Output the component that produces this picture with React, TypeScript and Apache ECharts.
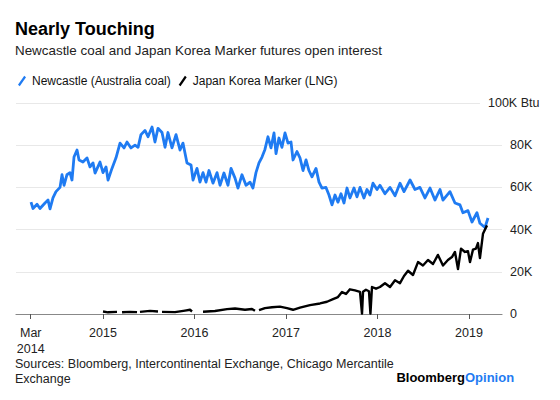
import React, { useEffect, useRef } from 'react';
import * as echarts from 'echarts';

// Newcastle (Australia coal) futures open interest, thousands; time in decimal years
const coalTime = [
  2014.213, 2014.235, 2014.279, 2014.311, 2014.366, 2014.399, 2014.421, 2014.453, 2014.486, 2014.530,
  2014.552, 2014.574, 2014.606, 2014.639, 2014.661, 2014.683, 2014.716, 2014.738, 2014.781, 2014.825,
  2014.858, 2014.891, 2014.913, 2014.967, 2015.000, 2015.033, 2015.055, 2015.098, 2015.142, 2015.186,
  2015.230, 2015.262, 2015.306, 2015.350, 2015.383, 2015.415, 2015.459, 2015.492, 2015.536, 2015.568,
  2015.601, 2015.645, 2015.678, 2015.710, 2015.754, 2015.798, 2015.842, 2015.874, 2015.918, 2015.962,
  2015.984, 2016.027, 2016.060, 2016.093, 2016.126, 2016.158, 2016.202, 2016.246, 2016.279, 2016.322,
  2016.366, 2016.399, 2016.443, 2016.475, 2016.519, 2016.563, 2016.607, 2016.639, 2016.672, 2016.705,
  2016.738, 2016.770, 2016.803, 2016.836, 2016.869, 2016.891, 2016.923, 2016.956, 2016.989, 2017.022,
  2017.055, 2017.077, 2017.120, 2017.153, 2017.186, 2017.219, 2017.251, 2017.284, 2017.328, 2017.361,
  2017.393, 2017.437, 2017.470, 2017.503, 2017.536, 2017.568, 2017.601, 2017.634, 2017.667, 2017.699,
  2017.743, 2017.776, 2017.809, 2017.852, 2017.885, 2017.918, 2017.951, 2017.995, 2018.027, 2018.082,
  2018.137, 2018.192, 2018.246, 2018.290, 2018.356, 2018.410, 2018.464, 2018.519, 2018.574, 2018.628,
  2018.683, 2018.716, 2018.792, 2018.847, 2018.902, 2018.934, 2018.989, 2019.033, 2019.087, 2019.120,
  2019.175, 2019.208,
];
const coalValue = [
  53, 50, 52, 50, 52.6, 54, 49.8, 55, 58, 60,
  66, 61, 66, 67, 63.5, 74.4, 77.7, 73, 72, 74,
  69.7, 71.6, 66.8, 72, 67, 69.7, 63.5, 69, 74, 81,
  78.7, 81.5, 78.7, 80, 79, 85, 87, 84, 88.6, 81.5,
  88, 86, 79, 86, 78.7, 85, 77.7, 81, 71.6, 70.6,
  63.5, 69, 62.5, 67, 62.5, 68, 62, 67, 61, 66.8,
  61, 69, 64.4, 59.7, 66, 61, 62.5, 59.7, 67, 71.6,
  74.4, 78, 84, 78.7, 85.8, 76, 83.4, 79, 85.8, 81,
  81.5, 73, 77, 74, 68, 73, 68, 65, 69, 62.5,
  59.7, 60, 56.4, 51.7, 56.4, 53, 57, 52.6, 59.7, 55,
  59.7, 55.5, 60, 55, 59, 56.4, 62, 59, 61, 57,
  60, 56, 62, 58, 63.5, 59, 60, 55, 59.7, 54,
  59, 54, 58, 52.6, 51.7, 48, 49, 43.6, 48, 43,
  41, 45.5,
];

// Japan Korea Marker (LNG) futures open interest, thousands; null = gap in data
const lngTime = [
  2015.000, 2015.055, 2015.153, 2015.180, 2015.208, 2015.295, 2015.372, 2015.388, 2015.404, 2015.514,
  2015.601, 2015.623, 2015.645, 2015.787, 2015.896, 2015.951, 2015.973, 2016.044, 2016.093, 2016.224,
  2016.355, 2016.443, 2016.552, 2016.628, 2016.661, 2016.683, 2016.705, 2016.770, 2016.847, 2016.934,
  2017.011, 2017.077, 2017.153, 2017.262, 2017.372, 2017.448, 2017.514, 2017.568, 2017.612, 2017.656,
  2017.699, 2017.754, 2017.809, 2017.831, 2017.842, 2017.874, 2017.907, 2017.923, 2017.940, 2017.984,
  2018.027, 2018.082, 2018.137, 2018.192, 2018.246, 2018.290, 2018.334, 2018.388, 2018.443, 2018.497,
  2018.552, 2018.607, 2018.661, 2018.716, 2018.770, 2018.814, 2018.847, 2018.880, 2018.913, 2018.956,
  2018.989, 2019.011, 2019.044, 2019.076, 2019.098, 2019.120, 2019.153, 2019.197,
];
const lngValue = [
  1.2, 0.8, 1.0, null, 0.8, 1.0, 0.9, null, 1.0, 1.5,
  1.2, null, 1.0, 0.9, 1.6, 2.0, 1.2, null, 1.1, 1.4,
  2.3, 2.6, 2.0, 2.4, 1.5, null, 1.8, 2.8, 3.2, 3.5,
  2.8, 2.0, 3.0, 4.2, 5.0, 5.8, 7.0, 8.0, 10.4, 9.5,
  11.7, 11.2, 10.5, 0.2, 10.5, 11.5, 10.8, 0.2, 12.8, 12.0,
  12.8, 14.6, 12.8, 16.0, 14.6, 18, 20.5, 18.5, 24.6, 23,
  25.6, 23.7, 28, 23, 25.6, 27, 29.4, 21.3, 31, 29.4,
  29.8, 24.6, 30.5, 31, 33.6, 26.5, 38, 42,
];

const seriesNames = ['Newcastle (Australia coal)', 'Japan Korea Marker (LNG)'];
const xTickValues = [2014.21, 2015, 2016, 2017, 2018, 2019];
const xTickLabels = ['Mar\n2014', '2015', '2016', '2017', '2018', '2019'];
const yTickValues = [0, 20, 40, 60, 80, 100];
const yTickLabels = ['0', '20K', '40K', '60K', '80K', '100K Btu'];
const xMin = 2014.049;
const xMax = 2019.361;
const topGridEnd = 2019.12;

const FONT = '"Liberation Sans", Arial, Helvetica, sans-serif';
const BLUE = '#1f7bf2';

export default function App() {
  const ref = useRef<HTMLDivElement>(null);
  useEffect(() => {
    if (!ref.current) return;
    const chart = echarts.init(ref.current, undefined, { renderer: 'svg' });
    const coalData = coalTime.map((t, i) => [t, coalValue[i]]);
    const lngData = lngTime.map((t, i) => [t, lngValue[i] == null ? '-' : lngValue[i]]);
    chart.setOption({
      animation: false,
      textStyle: { fontFamily: FONT },
      grid: { left: 16, right: 58, top: 103, bottom: 86, containLabel: false },
      legend: {
        left: 13,
        top: 70,
        itemWidth: 8,
        itemHeight: 11,
        itemGap: 8,
        icon: 'path://M0,10 L7,0 L9,1.6 L2,11.6 Z',
        textStyle: { fontSize: 12, color: '#111', fontFamily: FONT, padding: [0, 0, 0, 1] },
        data: seriesNames,
      },
      xAxis: {
        type: 'value',
        min: xMin,
        max: xMax,
        axisLine: { show: true, lineStyle: { color: '#888', width: 1.2 } },
        axisTick: {
          show: true,
          length: 5,
          lineStyle: { color: '#555' },
          customValues: xTickValues,
        },
        axisLabel: {
          customValues: xTickValues,
          formatter: (v: number) => {
            const i = xTickValues.findIndex((x) => Math.abs(x - v) < 1e-6);
            return i >= 0 ? xTickLabels[i] : '';
          },
          fontSize: 12.5,
          color: '#222',
          fontFamily: FONT,
          margin: 11,
          lineHeight: 16,
        },
        splitLine: { show: false },
      },
      yAxis: {
        type: 'value',
        position: 'right',
        min: 0,
        max: 100,
        interval: 20,
        axisLine: { show: false },
        axisTick: { show: false },
        axisLabel: {
          margin: 8,
          fontSize: 12.5,
          color: '#222',
          fontFamily: FONT,
          formatter: (v: number) => {
            const i = yTickValues.indexOf(v);
            if (i === yTickValues.length - 1) return '';
            return i >= 0 ? yTickLabels[i] : '';
          },
        },
        splitLine: { show: true, showMaxLine: false, lineStyle: { color: '#e8e8e8', width: 1 } },
      },
      series: [
        {
          name: seriesNames[0],
          type: 'line',
          data: coalData,
          showSymbol: false,
          symbol: 'none',
          color: BLUE,
          lineStyle: { color: BLUE, width: 2.8, join: 'round' },
          markLine: {
            silent: true,
            symbol: 'none',
            label: { show: false },
            lineStyle: { color: '#e8e8e8', width: 1, type: 'solid' },
            data: [[{ coord: [xMin, yTickValues[5]] }, { coord: [topGridEnd, yTickValues[5]] }]],
          },
          z: 2,
        },
        {
          name: seriesNames[1],
          type: 'line',
          data: lngData,
          showSymbol: false,
          symbol: 'none',
          connectNulls: false,
          color: '#000',
          lineStyle: { color: '#000', width: 2.4, join: 'round' },
          z: 3,
        },
      ],
      graphic: [
        {
          type: 'text',
          x: 15,
          y: 29,
          style: { text: 'Nearly Touching', font: `bold 18px ${FONT}`, fill: '#000', verticalAlign: 'middle' },
        },
        {
          type: 'text',
          x: 15,
          y: 50,
          style: {
            text: 'Newcastle coal and Japan Korea Marker futures open interest',
            font: `13.4px ${FONT}`,
            fill: '#222',
            verticalAlign: 'middle',
          },
        },
        {
          type: 'text',
          x: 488,
          y: 103,
          style: { text: yTickLabels[5], font: `12.5px ${FONT}`, fill: '#222', verticalAlign: 'middle' },
        },
        {
          type: 'text',
          x: 15,
          y: 364,
          style: {
            text: 'Sources: Bloomberg, Intercontinental Exchange, Chicago Mercantile',
            font: `12.5px ${FONT}`,
            fill: '#222',
            verticalAlign: 'middle',
          },
        },
        {
          type: 'text',
          x: 15,
          y: 379,
          style: { text: 'Exchange', font: `12.5px ${FONT}`, fill: '#222', verticalAlign: 'middle' },
        },
        {
          type: 'text',
          x: 465,
          y: 377,
          style: { text: 'Bloomberg', font: `bold 13px ${FONT}`, fill: '#000', align: 'right', verticalAlign: 'middle' },
        },
        {
          type: 'text',
          x: 465,
          y: 377,
          style: { text: 'Opinion', font: `bold 13px ${FONT}`, fill: BLUE, align: 'left', verticalAlign: 'middle' },
        },
      ],
    });
    return () => chart.dispose();
  }, []);
  return (
    <div
      ref={ref}
      style={{ position: 'fixed', left: 0, top: 0, width: 560, height: 400, background: '#fff' }}
    />
  );
}
